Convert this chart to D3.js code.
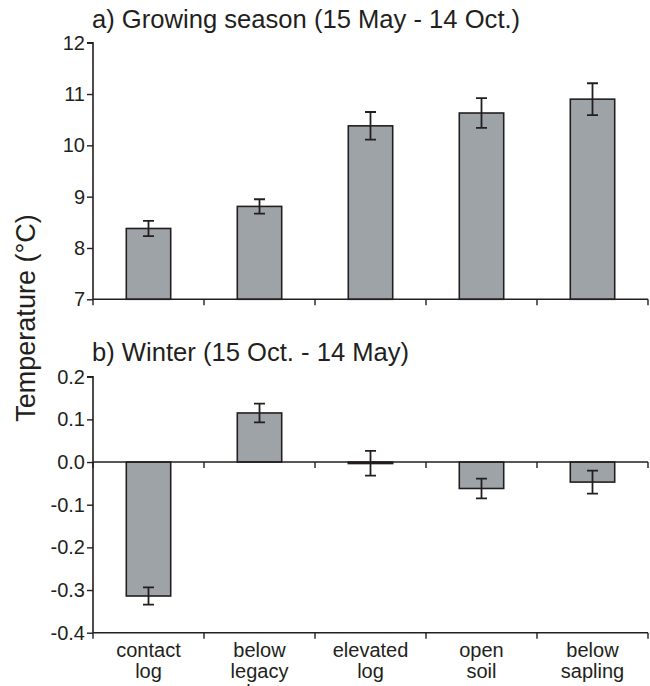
<!DOCTYPE html>
<html><head><meta charset="utf-8">
<script src="https://cdn.jsdelivr.net/npm/d3@7"></script>
<style>body{margin:0;background:#fff}svg{display:block}text{font-family:"Liberation Sans",Arial,Helvetica,sans-serif;fill:#231f20}</style>
</head><body><svg id="c" width="650" height="686"></svg>
<script>
const categories = [["contact","log"],["below","legacy","log"],["elevated","log"],["open","soil"],["below","sapling"]];
const growingMeans = [8.38, 8.81, 10.38, 10.63, 10.90];
const growingErr   = [0.15, 0.14, 0.27, 0.29, 0.31];
const winterMeans  = [-0.314, 0.115, -0.003, -0.062, -0.047];
const winterErr    = [0.020, 0.022, 0.029, 0.023, 0.027];
const growingTicks = [7, 8, 9, 10, 11, 12];
const winterTicks  = [-0.4, -0.3, -0.2, -0.1, 0.0, 0.1, 0.2];
const titles = ["a) Growing season (15 May - 14 Oct.)", "b) Winter (15 Oct. - 14 May)"];

const svg = d3.select("#c");
const ink = "#231f20", fill = "#9ea3a8";
const x = d3.scaleBand().domain(d3.range(categories.length)).range([93, 648]).paddingInner(0.6).paddingOuter(0.3);
const bounds = d3.range(categories.length + 1).map(i => 93 + i * (555 / categories.length));
const hyphenFmt = d => d3.format(".1f")(d).replace("\u2212", "-");

function panel(means, errs, domain, range, ticks, fmt, title, titleY, zeroLine) {
  const y = d3.scaleLinear().domain(domain).range(range);
  const g = svg.append("g");
  g.append("text").attr("x", 92).attr("y", titleY).attr("font-size", 25.6).text(title);
  const ya = g.append("g").attr("transform", "translate(93,0)").call(d3.axisLeft(y).tickValues(ticks).tickFormat(fmt).tickSize(6).tickPadding(2));
  ya.select(".domain").attr("stroke", ink).attr("stroke-width", 1.6).attr("d", `M-6,${y(domain[1])}H0V${y(domain[0])}`);
  ya.selectAll(".tick line").attr("stroke", ink).attr("stroke-width", 1.4);
  ya.selectAll(".tick text").attr("font-size", 20).attr("fill", ink).attr("font-family", '"Liberation Sans",Arial,sans-serif');
  const base = zeroLine ? 0 : domain[0];
  g.selectAll("rect").data(means).join("rect")
    .attr("x", (d, i) => x(i)).attr("width", x.bandwidth())
    .attr("y", d => y(Math.max(d, base))).attr("height", d => Math.max(Math.abs(y(d) - y(base)), 1.5))
    .attr("fill", fill).attr("stroke", ink).attr("stroke-width", 1.6);
  means.forEach((m, i) => {
    const cx = x(i) + x.bandwidth() / 2;
    const lo = y(m - errs[i]), hi = y(m + errs[i]);
    g.append("path").attr("d", `M${cx},${lo}V${hi}M${cx - 5.5},${lo}H${cx + 5.5}M${cx - 5.5},${hi}H${cx + 5.5}`)
      .attr("stroke", ink).attr("stroke-width", 1.8).attr("fill", "none");
  });
  const drawX = yv => {
    g.append("line").attr("x1", 93).attr("x2", 648).attr("y1", y(yv)).attr("y2", y(yv)).attr("stroke", ink).attr("stroke-width", 1.6);
    bounds.forEach(b => g.append("line").attr("x1", b).attr("x2", b).attr("y1", y(yv)).attr("y2", y(yv) + 6).attr("stroke", ink).attr("stroke-width", 1.4));
  };
  drawX(domain[0]);
  if (zeroLine) drawX(0);
  return y;
}

panel(growingMeans, growingErr, [7, 12], [299.3, 42.7], growingTicks, d3.format("d"), titles[0], 28, false);
panel(winterMeans, winterErr, [-0.4, 0.2], [632.7, 376.7], winterTicks, hyphenFmt, titles[1], 361, true);

categories.forEach((lines, i) => {
  const t = svg.append("text").attr("text-anchor", "middle").attr("font-size", 20);
  lines.forEach((l, k) => t.append("tspan").attr("x", x(i) + x.bandwidth() / 2).attr("y", 657 + k * 21).text(l));
});

svg.append("text").attr("transform", "translate(35,318) rotate(-90)").attr("text-anchor", "middle").attr("font-size", 27).text("Temperature (°C)");
</script></body></html>
